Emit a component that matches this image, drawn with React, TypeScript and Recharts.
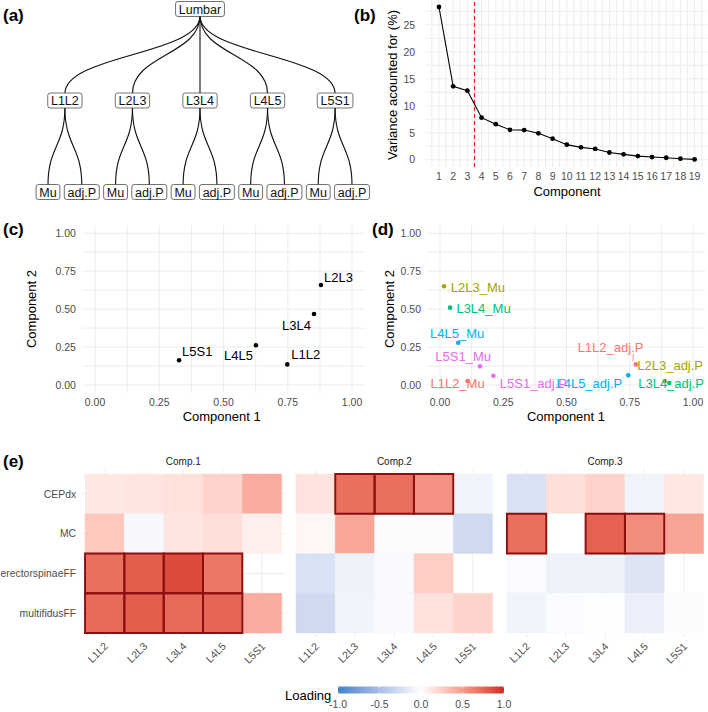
import React from "react";
import {
  CartesianGrid,
  Line,
  LineChart,
  ReferenceArea,
  ReferenceLine,
  Scatter,
  ScatterChart,
  XAxis,
  YAxis,
} from "recharts";

const FONT = "'Liberation Sans', Arial, Helvetica, sans-serif";
const TICK_GREY = "#4D4D4D";
const GRID = "#EBEBEB";

// (a) hierarchy
const rootName = "Lumbar";
const segments = ["L1L2", "L2L3", "L3L4", "L4L5", "L5S1"];
const tissues = ["Mu", "adj.P"];

// (b) scree plot
const componentNo = [1, 2, 3, 4, 5, 6, 7, 8, 9, 10, 11, 12, 13, 14, 15, 16, 17, 18, 19];
const varianceExplained = [
  28.3, 13.6, 12.8, 7.8, 6.6, 5.55, 5.5, 4.9, 3.9, 2.8, 2.3, 2.0, 1.35, 1.0, 0.68, 0.5, 0.37,
  0.2, 0.07,
];
const retainedCut = 3.5;

// (c) segment loadings
const segComp1 = [0.748, 0.879, 0.852, 0.626, 0.327];
const segComp2 = [0.136, 0.659, 0.468, 0.262, 0.163];

// (d) site loadings
const siteNames = [
  "L1L2_Mu", "L1L2_adj.P", "L2L3_Mu", "L2L3_adj.P", "L3L4_Mu",
  "L3L4_adj.P", "L4L5_Mu", "L4L5_adj.P", "L5S1_Mu", "L5S1_adj.P",
];
const siteComp1 = [0.109, 0.774, 0.016, 0.888, 0.04, 0.906, 0.072, 0.744, 0.158, 0.211];
const siteComp2 = [0.026, 0.136, 0.651, 0.026, 0.51, 0.013, 0.279, 0.064, 0.123, 0.061];
const segmentColors = ["#F8766D", "#A3A500", "#00BF7D", "#00B0F6", "#E76BF3"];

// (e) loadings heatmap
const heatVars = ["CEPdx", "MC", "erectorspinaeFF", "multifidusFF"];
const heatComps = ["Comp.1", "Comp.2", "Comp.3"];
const comp1Load = [
  [0.12, 0.13, 0.15, 0.22, 0.42],
  [0.28, -0.05, 0.13, 0.16, 0.08],
  [0.72, 0.8, 0.88, 0.68, null],
  [0.74, 0.8, 0.74, 0.76, 0.42],
];
const comp2Load = [
  [0.14, 0.72, 0.72, 0.55, -0.08],
  [0.04, 0.45, -0.02, -0.02, -0.28],
  [-0.22, -0.1, -0.04, 0.25, null],
  [-0.28, -0.08, -0.04, 0.15, 0.22],
];
const comp3Load = [
  [-0.22, 0.16, 0.22, -0.08, 0.12],
  [0.72, 0.0, 0.78, 0.58, 0.46],
  [-0.03, -0.1, -0.1, -0.2, null],
  [-0.08, -0.03, -0.01, -0.12, -0.02],
];
const highlightCut = 0.5;
const legendTicks = [-1, -0.5, 0, 0.5, 1];

// label placement for the repelled text (pixels from the point)
const segNudge: Record<string, [number, number, string]> = {
  L1L2: [4, -10, "start"],
  L2L3: [3, -8, "start"],
  L3L4: [-3, 11, "end"],
  L4L5: [-3, 10, "end"],
  L5S1: [3, -9, "start"],
};
const siteNudge: Record<string, [number, number, string]> = {
  L1L2_Mu: [-10, 2.7, "middle"],
  "L1L2_adj.P": [7.6, -16.6, "end"],
  L2L3_Mu: [6.7, 1.4, "start"],
  "L2L3_adj.P": [-27.4, -15.3, "start"],
  L3L4_Mu: [6.3, 0.6, "start"],
  "L3L4_adj.P": [-31, 0.7, "start"],
  L4L5_Mu: [-1, -9.4, "middle"],
  "L4L5_adj.P": [-6, 8.4, "end"],
  L5S1_Mu: [-16.8, -9.6, "middle"],
  "L5S1_adj.P": [6.4, 8, "start"],
};

// ---- colour scale (gradient2 in Lab) ----
const LOW = [62, 130, 205];
const HIGH = [210, 40, 38];
const toLin = (c: number) => {
  const v = c / 255;
  return v <= 0.04045 ? v / 12.92 : Math.pow((v + 0.055) / 1.055, 2.4);
};
const fromLin = (c: number) => {
  const v = c <= 0.0031308 ? 12.92 * c : 1.055 * Math.pow(c, 1 / 2.4) - 0.055;
  return Math.round(Math.max(0, Math.min(1, v)) * 255);
};
const fLab = (t: number) => (t > 0.008856 ? Math.cbrt(t) : 7.787 * t + 16 / 116);
const fInv = (t: number) => (t > 0.206893 ? t * t * t : (t - 16 / 116) / 7.787);
function rgbToLab(rgb: number[]) {
  const [r, g, b] = rgb.map(toLin);
  const x = (0.4124 * r + 0.3576 * g + 0.1805 * b) / 0.95047;
  const y = 0.2126 * r + 0.7152 * g + 0.0722 * b;
  const z = (0.0193 * r + 0.1192 * g + 0.9505 * b) / 1.08883;
  const fx = fLab(x), fy = fLab(y), fz = fLab(z);
  return [116 * fy - 16, 500 * (fx - fy), 200 * (fy - fz)];
}
function labToHex(lab: number[]) {
  const fy = (lab[0] + 16) / 116;
  const fx = fy + lab[1] / 500;
  const fz = fy - lab[2] / 200;
  const x = fInv(fx) * 0.95047, y = fInv(fy), z = fInv(fz) * 1.08883;
  const r = 3.2406 * x - 1.5372 * y - 0.4986 * z;
  const g = -0.9689 * x + 1.8758 * y + 0.0415 * z;
  const b = 0.0557 * x - 0.204 * y + 1.057 * z;
  return "#" + [r, g, b].map((c) => fromLin(c).toString(16).padStart(2, "0")).join("");
}
const LAB_LOW = rgbToLab(LOW);
const LAB_MID = rgbToLab([255, 255, 255]);
const LAB_HIGH = rgbToLab(HIGH);
function loadingColor(v: number) {
  const end = v < 0 ? LAB_LOW : LAB_HIGH;
  const t = Math.min(1, Math.abs(v));
  return labToHex(LAB_MID.map((m, i) => m + (end[i] - m) * t));
}

let measureCtx: CanvasRenderingContext2D | null = null;
function textWidth(s: string, size: number) {
  if (!measureCtx) measureCtx = document.createElement("canvas").getContext("2d");
  if (!measureCtx) return s.length * size * 0.55;
  measureCtx.font = `${size}px ${FONT}`;
  return measureCtx.measureText(s).width;
}

// ---- (a) tree ----
interface TreeNode {
  name: string;
  x: number;
  depth: number;
  parent: number;
}
function buildTree(): TreeNode[] {
  const nodes: TreeNode[] = [{ name: rootName, x: (segments.length * tissues.length - 1) / 2, depth: 0, parent: -1 }];
  segments.forEach((s, i) => {
    const idx = nodes.length;
    nodes.push({ name: s, x: i * tissues.length + (tissues.length - 1) / 2, depth: 1, parent: 0 });
    tissues.forEach((t, j) => nodes.push({ name: t, x: i * tissues.length + j, depth: 2, parent: idx }));
  });
  return nodes;
}

const edgeShape = (p: any) => {
  const y1 = p.y1 + 7;
  const y2 = p.y2 - 7;
  const my = (p.y1 + p.y2) / 2;
  return (
    <path
      d={`M${p.x1},${y1} C${p.x1},${my} ${p.x2},${my} ${p.x2},${y2}`}
      fill="none"
      stroke="#111"
      strokeWidth={1.1}
    />
  );
};

const nodeShape = (p: any) => {
  const label = p.payload.name;
  const w = textWidth(label, 12.5) + 6.5;
  return (
    <g>
      <rect x={p.cx - w / 2} y={p.cy - 7.5} width={w} height={15} rx={2.5} fill="#fff" stroke="#333" strokeWidth={0.7} />
      <text x={p.cx} y={p.cy + 0.5} textAnchor="middle" dominantBaseline="central" fontSize={12.5} fontFamily={FONT} fill="#111">
        {label}
      </text>
    </g>
  );
};

function TreePanel() {
  const nodes = buildTree();
  return (
    <ScatterChart width={380} height={200} margin={{ top: 9, right: 28, bottom: 8, left: 48 }}>
      <XAxis type="number" dataKey="x" domain={[0, 9]} hide />
      <YAxis type="number" dataKey="depth" domain={[0, 2]} reversed hide />
      {nodes
        .filter((n) => n.parent >= 0)
        .map((n, i) => (
          <ReferenceLine
            key={`e${i}`}
            ifOverflow="visible"
            segment={[
              { x: nodes[n.parent].x, y: nodes[n.parent].depth },
              { x: n.x, y: n.depth },
            ]}
            shape={edgeShape}
          />
        ))}
      <Scatter data={nodes} shape={nodeShape} isAnimationActive={false} />
    </ScatterChart>
  );
}

// ---- (b) scree ----
function ScreePanel() {
  const data = componentNo.map((c, i) => ({ comp: c, v: varianceExplained[i] }));
  const xTicks: number[] = [];
  for (let k = 0.5; k <= 19.5; k += 0.5) xTicks.push(k);
  const yTicks: number[] = [];
  for (let k = 0; k <= 27.5; k += 2.5) yTicks.push(k);
  const tick = { fill: TICK_GREY, fontSize: 10.5, fontFamily: FONT };
  return (
    <LineChart width={354} height={200} data={data} margin={{ top: 0, right: 0.6, bottom: 0, left: 0 }}>
      <CartesianGrid stroke={GRID} strokeWidth={0.9} syncWithTicks verticalValues={xTicks} horizontalValues={yTicks} />
      <XAxis
        type="number"
        dataKey="comp"
        domain={[0.1, 19.9]}
        ticks={xTicks}
        interval={0}
        tickFormatter={(v: number) => (Number.isInteger(v) ? String(v) : "")}
        height={33}
        axisLine={false}
        tickLine={false}
        tickSize={0}
        tickMargin={6}
        tick={tick}
      />
      <YAxis
        type="number"
        domain={[-1.34, 29.6]}
        ticks={yTicks}
        interval={0}
        tickFormatter={(v: number) => (v % 5 === 0 ? String(v) : "")}
        width={72.2}
        axisLine={false}
        tickLine={false}
        tickSize={0}
        tickMargin={11}
        tick={tick}
      />
      <ReferenceLine x={retainedCut} stroke="#E8211C" strokeWidth={1.2} strokeDasharray="4 3" />
      <Line
        dataKey="v"
        stroke="#000"
        strokeWidth={1.1}
        dot={{ r: 2.4, fill: "#000", stroke: "#000", strokeWidth: 0 }}
        isAnimationActive={false}
      />
    </LineChart>
  );
}

// ---- (c) / (d) loading scatter ----
const unitTicks = [0, 0.125, 0.25, 0.375, 0.5, 0.625, 0.75, 0.875, 1];
const quarterFmt = (v: number) => (Math.round(v * 1000) % 250 === 0 ? v.toFixed(2) : "");

function makeLabelDot(nudge: Record<string, [number, number, string]>) {
  return (p: any) => {
    const { name, color } = p.payload;
    const [dx, dy, anchor] = nudge[name];
    const tx = p.cx + dx;
    const ty = p.cy + dy;
    return (
      <g>
        {name === "L1L2_adj.P" && (
          <line x1={p.cx - 3} y1={p.cy - 3} x2={tx - 10} y2={ty + 6} stroke={color} strokeWidth={0.8} />
        )}
        <circle cx={p.cx} cy={p.cy} r={2.3} fill={color} />
        <text x={tx} y={ty} textAnchor={anchor as any} dominantBaseline="central" fontSize={13} fontFamily={FONT} fill={color}>
          {name}
        </text>
      </g>
    );
  };
}

function LoadingScatter({
  data,
  width,
  yWidth,
  right,
  nudge,
}: {
  data: { name: string; c1: number; c2: number; color: string }[];
  width: number;
  yWidth: number;
  right: number;
  nudge: Record<string, [number, number, string]>;
}) {
  const tick = { fill: TICK_GREY, fontSize: 10.5, fontFamily: FONT };
  return (
    <ScatterChart width={width} height={230} margin={{ top: 25.7, right, bottom: 0, left: 0 }}>
      <CartesianGrid stroke={GRID} strokeWidth={0.9} syncWithTicks verticalValues={unitTicks} horizontalValues={unitTicks} />
      <XAxis
        type="number"
        dataKey="c1"
        domain={[-0.05, 1.05]}
        ticks={unitTicks}
        interval={0}
        tickFormatter={quarterFmt}
        height={37.4}
        axisLine={false}
        tickLine={false}
        tickSize={0}
        tickMargin={6}
        tick={tick}
      />
      <YAxis
        type="number"
        dataKey="c2"
        domain={[-0.05, 1.05]}
        ticks={unitTicks}
        interval={0}
        tickFormatter={quarterFmt}
        width={yWidth}
        axisLine={false}
        tickLine={false}
        tickSize={0}
        tickMargin={6.3}
        tick={tick}
      />
      <Scatter data={data} shape={makeLabelDot(nudge)} isAnimationActive={false} />
    </ScatterChart>
  );
}

// ---- (e) heatmap facets ----
const colPos = [1, 2, 3, 4, 5];
const rowPos = [1, 2, 3, 4];

const HeatXTick = (p: any) => {
  const x = p.x + 4;
  const y = p.y + 10;
  return (
    <text x={x} y={y} transform={`rotate(-45 ${x} ${y})`} textAnchor="end" fontSize={10.5} fontFamily={FONT} fill={TICK_GREY}>
      {segments[p.payload.value - 1]}
    </text>
  );
};

function HeatFacet({ values, showY }: { values: (number | null)[][]; showY: boolean }) {
  const yWidth = showY ? 81.1 : 0;
  const cells: { col: number; row: number; v: number }[] = [];
  values.forEach((row, r) =>
    row.forEach((v, c) => {
      if (v !== null) cells.push({ col: c + 1, row: r + 1, v });
    })
  );
  return (
    <ScatterChart width={yWidth + 204.5} height={212} margin={{ top: 0, right: 0, bottom: 0, left: 0 }}>
      <CartesianGrid stroke={GRID} strokeWidth={0.9} syncWithTicks verticalValues={colPos} horizontalValues={rowPos} />
      <XAxis
        type="number"
        dataKey="col"
        domain={[0.4, 5.6]}
        ticks={colPos}
        interval={0}
        height={45}
        axisLine={false}
        tickLine={false}
        tickSize={0}
        tickMargin={0}
        tick={<HeatXTick />}
      />
      <YAxis
        type="number"
        dataKey="row"
        domain={[0.4, 4.6]}
        reversed
        ticks={rowPos}
        interval={0}
        width={yWidth}
        axisLine={false}
        tickLine={false}
        tickSize={0}
        tickMargin={5}
        tickFormatter={(v: number) => heatVars[v - 1]}
        tick={showY ? { fill: TICK_GREY, fontSize: 10.4, fontFamily: FONT } : false}
      />
      {cells.map((c, i) => (
        <ReferenceArea
          key={`f${i}`}
          x1={c.col - 0.5}
          x2={c.col + 0.5}
          y1={c.row - 0.5}
          y2={c.row + 0.5}
          fill={loadingColor(c.v)}
          fillOpacity={1}
          stroke={loadingColor(c.v)}
          strokeWidth={0.4}
          ifOverflow="visible"
        />
      ))}
      {cells
        .filter((c) => c.v > highlightCut)
        .map((c, i) => (
          <ReferenceArea
            key={`h${i}`}
            x1={c.col - 0.5}
            x2={c.col + 0.5}
            y1={c.row - 0.5}
            y2={c.row + 0.5}
            fill="none"
            stroke="#8B0F0F"
            strokeWidth={1.9}
            ifOverflow="visible"
          />
        ))}
      <Scatter data={cells} shape={() => <g />} isAnimationActive={false} />
    </ScatterChart>
  );
}

function Legend() {
  const x0 = 338;
  const x1 = 504;
  const sx = (v: number) => x0 + ((v + 1) / 2) * (x1 - x0);
  const stops = [-1, -0.75, -0.5, -0.25, 0, 0.25, 0.5, 0.75, 1];
  return (
    <g>
      <defs>
        <linearGradient id="loadGrad" x1="0" y1="0" x2="1" y2="0">
          {stops.map((s) => (
            <stop key={s} offset={`${((s + 1) / 2) * 100}%`} stopColor={loadingColor(s)} />
          ))}
        </linearGradient>
      </defs>
      <text x={285} y={695} dominantBaseline="central" fontSize={13} fontFamily={FONT} fill="#000">
        Loading
      </text>
      <rect x={x0} y={686.5} width={x1 - x0} height={7} fill="url(#loadGrad)" />
      {legendTicks.map((t) => (
        <g key={t}>
          <line x1={sx(t)} x2={sx(t)} y1={686.5} y2={688} stroke="#fff" strokeWidth={0.8} />
          <line x1={sx(t)} x2={sx(t)} y1={692} y2={693.5} stroke="#fff" strokeWidth={0.8} />
          <text x={sx(t)} y={704} textAnchor="middle" dominantBaseline="central" fontSize={10.5} fontFamily={FONT} fill={TICK_GREY}>
            {t.toFixed(1)}
          </text>
        </g>
      ))}
    </g>
  );
}

export default function App() {
  const segData = segments.map((s, i) => ({ name: s, c1: segComp1[i], c2: segComp2[i], color: "#000" }));
  const siteData = siteNames.map((s, i) => ({
    name: s,
    c1: siteComp1[i],
    c2: siteComp2[i],
    color: segmentColors[Math.floor(i / tissues.length)],
  }));
  const facets = [comp1Load, comp2Load, comp3Load];
  const facetLeft = [0, 292.1, 502.8];
  const facetCenter = [183.3, 394.4, 605];
  const title = { fontSize: 13, fontFamily: FONT, fill: "#000" };
  const tag = { fontSize: 17, fontFamily: FONT, fontWeight: 700, fill: "#000" };
  return (
    <div style={{ position: "absolute", left: 0, top: 0, width: 708, height: 712, background: "#fff", overflow: "hidden" }}>
      <div style={{ position: "absolute", left: 354, top: 0 }}>
        <ScreePanel />
      </div>
      <div style={{ position: "absolute", left: 0, top: 0 }}>
        <TreePanel />
      </div>
      <div style={{ position: "absolute", left: 0, top: 200 }}>
        <LoadingScatter data={segData} width={370} yWidth={82.2} right={5.1} nudge={segNudge} />
      </div>
      <div style={{ position: "absolute", left: 370, top: 200 }}>
        <LoadingScatter data={siteData} width={338} yWidth={57.35} right={2.35} nudge={siteNudge} />
      </div>
      {facets.map((f, i) => (
        <div key={i} style={{ position: "absolute", left: facetLeft[i], top: 470 }}>
          <HeatFacet values={f} showY={i === 0} />
        </div>
      ))}
      <svg width={708} height={712} style={{ position: "absolute", left: 0, top: 0, pointerEvents: "none" }}>
        <text x={3} y={15} dominantBaseline="central" {...tag}>(a)</text>
        <text x={354} y={15} dominantBaseline="central" {...tag}>(b)</text>
        <text x={3} y={229} dominantBaseline="central" {...tag}>(c)</text>
        <text x={372} y={229} dominantBaseline="central" {...tag}>(d)</text>
        <text x={3} y={461} dominantBaseline="central" {...tag}>(e)</text>
        <text x={392} y={85} textAnchor="middle" dominantBaseline="central" transform="rotate(-90 392 85)" {...title}>
          Variance acounted for (%)
        </text>
        <text x={567} y={191.7} textAnchor="middle" dominantBaseline="central" {...title}>Component</text>
        <text x={221.7} y={416.7} textAnchor="middle" dominantBaseline="central" {...title}>Component 1</text>
        <text x={31.7} y={309} textAnchor="middle" dominantBaseline="central" transform="rotate(-90 31.7 309)" {...title}>
          Component 2
        </text>
        <text x={566} y={416.7} textAnchor="middle" dominantBaseline="central" {...title}>Component 1</text>
        <text x={389} y={309} textAnchor="middle" dominantBaseline="central" transform="rotate(-90 389 309)" {...title}>
          Component 2
        </text>
        {heatComps.map((c, i) => (
          <text key={c} x={facetCenter[i]} y={461} textAnchor="middle" dominantBaseline="central" fontSize={10} fontFamily={FONT} fill="#1A1A1A">
            {c}
          </text>
        ))}
        <Legend />
      </svg>
    </div>
  );
}
